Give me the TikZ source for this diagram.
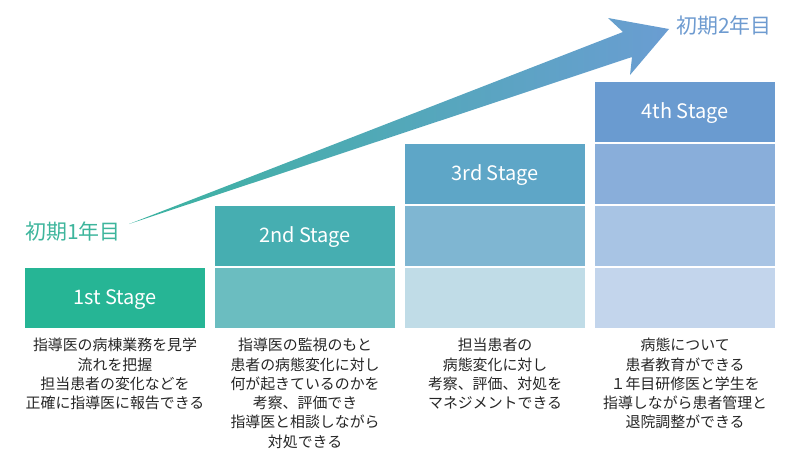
\documentclass[tikz,border=0pt]{standalone}
\usepackage{fontspec}
\setmainfont{Noto Sans CJK JP}
\usetikzlibrary{positioning}
\definecolor{stgA}{HTML}{26B595}
\definecolor{stgB}{HTML}{46AEB1}
\definecolor{stgBb}{HTML}{6BBDC0}
\definecolor{stgC}{HTML}{5EA6C7}
\definecolor{stgCb}{HTML}{7FB6D2}
\definecolor{stgCc}{HTML}{C0DCE7}
\definecolor{stgD}{HTML}{6A9BD0}
\definecolor{stgDb}{HTML}{89AEDA}
\definecolor{stgDc}{HTML}{A8C4E4}
\definecolor{stgDd}{HTML}{C3D5EC}
\definecolor{yrA}{HTML}{3DB59C}
\definecolor{yrB}{HTML}{6E9BD0}
\definecolor{arrA}{HTML}{3BB3A0}
\definecolor{arrB}{HTML}{6A9DD2}
\tikzset{
    tile/.style={rectangle, minimum width=4.5cm, minimum height=1.5cm, inner sep=0pt, outer sep=0pt},
    stage/.style={tile, text=white, text height=0.95em, text depth=0pt, font=\fontsize{14.2}{16}\selectfont},
    memo/.style={align=center, inner sep=0pt, text=black!85, font=\fontsize{10.6}{13.7}\selectfont},
    year/.style={inner sep=0pt, font=\fontsize{14.9}{17}\selectfont}
}
\begin{document}
\begin{tikzpicture}[x=0.025cm, y=-0.025cm, node distance=0.05cm and 0.25cm]
    \useasboundingbox (0,0) rectangle (800,460);

    % stage tiles, bottom row first
    \node [stage, fill=stgA] (s1) at (115,298) {1st Stage};
    \node [tile, fill=stgBb, right=of s1] (s2b) {};
    \node [stage, fill=stgB, above=of s2b] (s2) {2nd Stage};
    \node [tile, fill=stgCc, right=of s2b] (s3c) {};
    \node [tile, fill=stgCb, above=of s3c] (s3b) {};
    \node [stage, fill=stgC, above=of s3b] (s3) {3rd Stage};
    \node [tile, fill=stgDd, right=of s3c] (s4d) {};
    \node [tile, fill=stgDc, above=of s4d] (s4c) {};
    \node [tile, fill=stgDb, above=of s4c] (s4b) {};
    \node [stage, fill=stgD, above=of s4b] (s4) {4th Stage};

    % growth arrow
    \coordinate (tail) at (129,224);
    \coordinate (tip) at (669,29);
    \shade [left color=arrA, right color=arrB] (tail) -- (623,32) -- (608,18) -- (tip) -- (630,75) -- (632,57) -- cycle;

    \node [year, text=yrA, anchor=west] (y1) at (25,232) {初期1年目};
    \node [year, text=yrB, anchor=west] (y2) at (676,26) {初期2年目};

    % goals under each stage
    \node [memo, below=0.25cm of s1] (m1) {指導医の病棟業務を見学\\流れを把握\\担当患者の変化などを\\正確に指導医に報告できる};
    \node [memo, below=0.25cm of s2b] (m2) {指導医の監視のもと\\患者の病態変化に対し\\何が起きているのかを\\考察、評価でき\\指導医と相談しながら\\対処できる};
    \node [memo, below=0.25cm of s3c] (m3) {担当患者の\\病態変化に対し\\考察、評価、対処を\\マネジメントできる};
    \node [memo, below=0.25cm of s4d] (m4) {病態について\\患者教育ができる\\１年目研修医と学生を\\指導しながら患者管理と\\退院調整ができる};
\end{tikzpicture}
\end{document}
